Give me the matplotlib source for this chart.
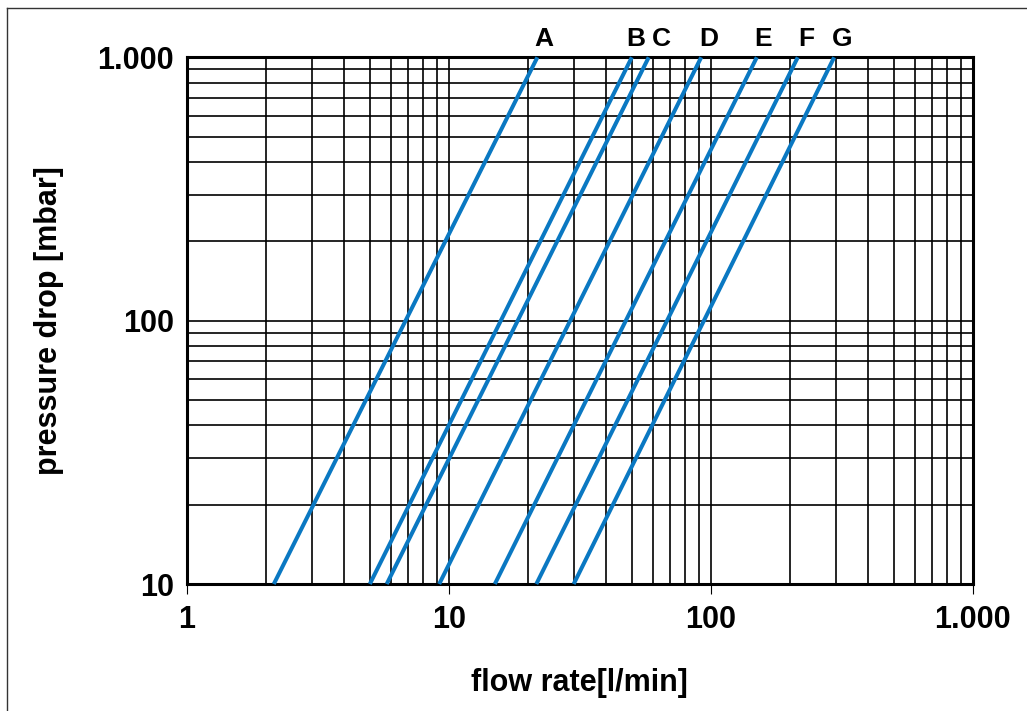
import matplotlib.pyplot as plt
from matplotlib.lines import Line2D
from matplotlib.ticker import FixedLocator, FixedFormatter, NullFormatter

plt.rcParams["font.family"] = ["Liberation Sans", "DejaVu Sans"]
plt.rcParams["font.weight"] = "bold"

# curve names and flow rate [l/min] at 10 mbar and at 1.000 mbar
curves = ["A", "B", "C", "D", "E", "F", "G"]
flow_low = [2.15, 5.0, 5.8, 9.2, 15.0, 21.6, 30.0]
flow_high = [21.8, 50.0, 58.0, 92.0, 150.0, 215.0, 296.0]
dp_low = 10
dp_high = 1000

x_ticks = [1, 10, 100, 1000]
x_labels = ["1", "10", "100", "1.000"]
y_ticks = [10, 100, 1000]
y_labels = ["10", "100", "1.000"]

# horizontal nudge (pixels) of each curve letter from the line end
label_dx = [6, 4, 13, 8, 6, 9, 8]

blue = "#0a78c2"

fig = plt.figure(figsize=(10.27, 7.11), dpi=100)
ax = fig.add_axes([0.1818, 0.1786, 0.9471 - 0.1818, 0.9194 - 0.1786])

ax.set_xscale("log")
ax.set_yscale("log")
ax.set_xlim(1, 1000)
ax.set_ylim(10, 1000)

for name, lo, hi, dx in zip(curves, flow_low, flow_high, label_dx):
    ax.plot([lo, hi], [dp_low, dp_high], color=blue, lw=2.9,
            solid_capstyle="butt", zorder=3, clip_on=False)
    ax.annotate(name, xy=(hi, dp_high), xytext=(dx, 6), textcoords="offset pixels",
                ha="center", va="bottom", fontsize=19, fontweight="bold",
                annotation_clip=False)

ax.xaxis.set_major_locator(FixedLocator(x_ticks))
ax.xaxis.set_major_formatter(FixedFormatter(x_labels))
ax.xaxis.set_minor_formatter(NullFormatter())
ax.yaxis.set_major_locator(FixedLocator(y_ticks))
ax.yaxis.set_major_formatter(FixedFormatter(y_labels))
ax.yaxis.set_minor_formatter(NullFormatter())

ax.grid(True, which="both", color="black", lw=1.2)
ax.tick_params(axis="x", which="major", length=7, width=0.8, direction="out",
               pad=8, labelsize=22)
ax.tick_params(axis="x", which="minor", length=0)
ax.tick_params(axis="y", which="both", length=0, pad=9, labelsize=22)
for sp in ax.spines.values():
    sp.set_linewidth(2.2)

ax.set_xlabel("flow rate[l/min]", fontsize=22, fontweight="bold", labelpad=24)
ax.set_ylabel("pressure drop [mbar]", fontsize=22, fontweight="bold", labelpad=24)

# partial frame around the figure (top and left only)
fig.add_artist(Line2D([0.007, 1.0], [0.989, 0.989], color="#333333", lw=1.0))
fig.add_artist(Line2D([0.007, 0.007], [0.0, 0.989], color="#333333", lw=1.0))

plt.savefig("out.png", dpi=100)
